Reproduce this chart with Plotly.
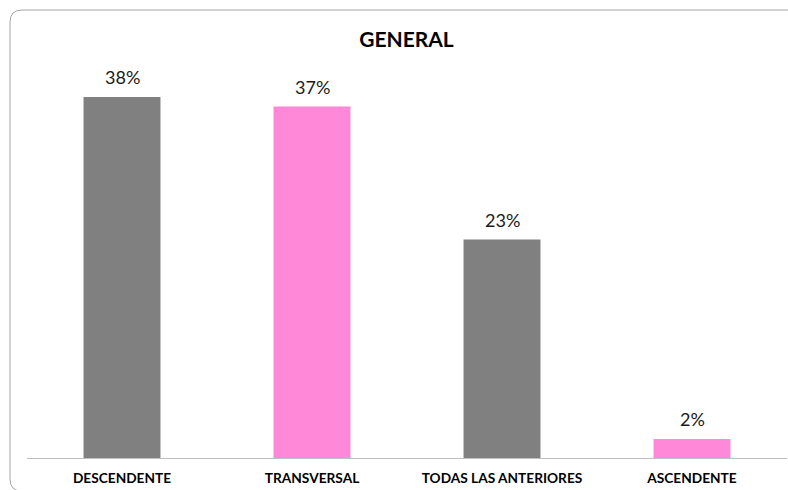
import plotly.graph_objects as go

categories = ["DESCENDENTE", "TRANSVERSAL", "TODAS LAS ANTERIORES", "ASCENDENTE"]
values = [38, 37, 23, 2]
bar_colors = ["#808080", "#FF88D8", "#808080", "#FF88D8"]
title_text = "GENERAL"

W, H = 788, 490
# plot area in pixels
L, R, T, B = 27, 787, 78, 458


def px_x(p):
    return (p - L) / (R - L)


def px_y(p):
    return (B - p) / (B - T)


# open rounded frame: top edge, left side, bottom edge (right side runs off the page)
x0, x_end, y0, y1, r = 10, 800, 10, 491, 12
frame = (
    f"M {px_x(x_end)},{px_y(y0)} "
    f"L {px_x(x0 + r)},{px_y(y0)} "
    f"Q {px_x(x0)},{px_y(y0)} {px_x(x0)},{px_y(y0 + r)} "
    f"L {px_x(x0)},{px_y(y1 - r)} "
    f"Q {px_x(x0)},{px_y(y1)} {px_x(x0 + r)},{px_y(y1)} "
    f"L {px_x(x_end)},{px_y(y1)}"
)

fig = go.Figure(
    go.Bar(
        x=categories,
        y=values,
        marker=dict(color=bar_colors, line=dict(width=0)),
        width=0.405,
        hoverinfo="x+y",
    )
)

# value labels above each bar
for c, v in zip(categories, values):
    fig.add_annotation(
        x=c,
        y=v,
        text=f"{v}%",
        showarrow=False,
        yanchor="bottom",
        yshift=7,
        font=dict(family="Lato", size=18, color="#1a1a1a"),
    )

fig.update_layout(
    width=W,
    height=H,
    margin=dict(l=L, r=W - R, t=T, b=H - B),
    paper_bgcolor="white",
    plot_bgcolor="white",
    showlegend=False,
    title=dict(
        text=f"<b>{title_text}</b>",
        x=406.5 / W,
        xanchor="center",
        y=1 - 40 / H,
        yanchor="middle",
        font=dict(family="Lato", size=21, color="#000000"),
    ),
    shapes=[
        dict(
            type="path",
            path=frame,
            xref="paper",
            yref="paper",
            line=dict(color="#A6A6A6", width=1),
            layer="below",
        )
    ],
)

fig.update_xaxes(
    showline=True,
    linecolor="#C0C0C0",
    linewidth=1,
    ticks="",
    showgrid=False,
    tickfont=dict(family="Lato", size=13.7, color="#000000", weight="bold"),
    ticklabelstandoff=8,
)
fig.update_yaxes(
    range=[0, 40],
    visible=False,
    showgrid=False,
    zeroline=False,
)

fig.write_html("out.html")
